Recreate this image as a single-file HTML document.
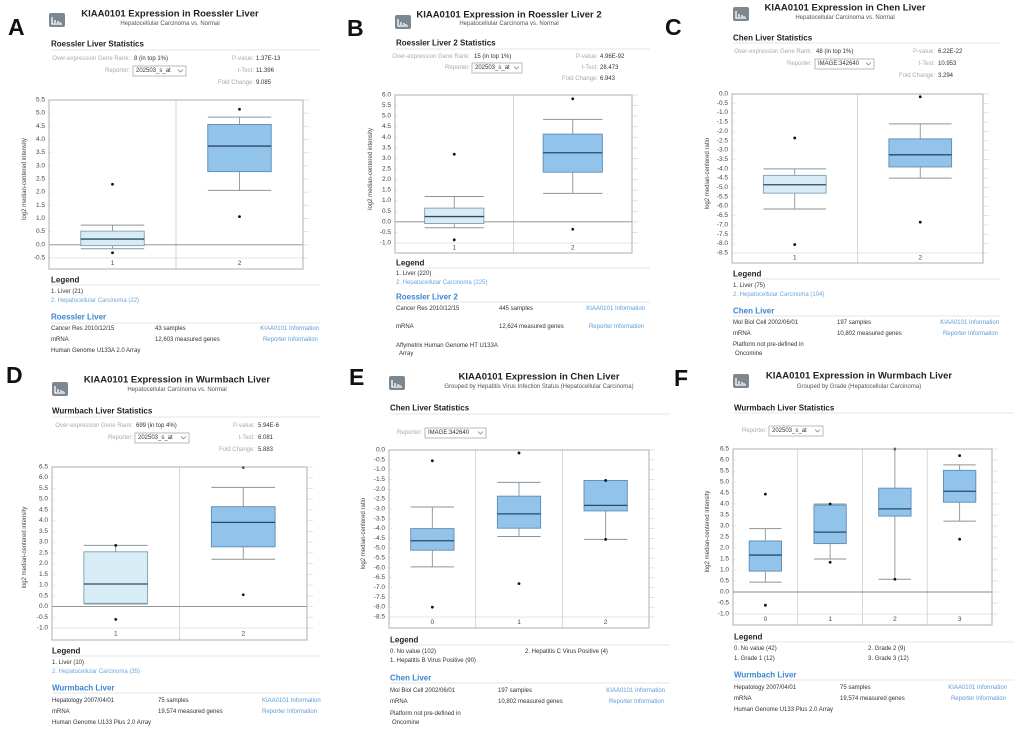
<!DOCTYPE html>
<html><head><meta charset="utf-8"><style>
html,body{margin:0;padding:0;background:#fff;}
svg{display:block;font-family:"Liberation Sans",sans-serif;}
</style></head><body>
<svg id="fig" width="1020" height="732" viewBox="0 0 1020 732"></svg>
<script>
// ---- Data ----
const aCategories = ["1","2"];
const aWhiskerHi = [0.75, 4.85];
const aQ3 = [0.52, 4.57];
const aMedian = [0.22, 3.75];
const aQ1 = [-0.03, 2.78];
const aWhiskerLo = [-0.15, 2.07];
const aOutliers = [[2.3, -0.3], [5.15, 1.07]];

const bCategories = ["1","2"];
const bWhiskerHi = [1.2, 4.85];
const bQ3 = [0.65, 4.15];
const bMedian = [0.25, 3.27];
const bQ1 = [-0.08, 2.35];
const bWhiskerLo = [-0.28, 1.35];
const bOutliers = [[3.2, -0.85], [5.82, -0.35]];

const cCategories = ["1","2"];
const cWhiskerHi = [-4.0, -1.6];
const cQ3 = [-4.35, -2.4];
const cMedian = [-4.85, -3.25];
const cQ1 = [-5.3, -3.9];
const cWhiskerLo = [-6.15, -4.5];
const cOutliers = [[-2.35, -8.05], [-0.15, -6.85]];

const dCategories = ["1","2"];
const dWhiskerHi = [2.85, 5.55];
const dQ3 = [2.55, 4.65];
const dMedian = [1.05, 3.92];
const dQ1 = [0.15, 2.78];
const dWhiskerLo = [0.12, 2.2];
const dOutliers = [[2.85, -0.6], [6.48, 0.55]];

const eCategories = ["0","1","2"];
const eWhiskerHi = [-2.9, -1.65, -1.55];
const eQ3 = [-4.0, -2.35, -1.55];
const eMedian = [-4.62, -3.25, -2.82];
const eQ1 = [-5.1, -3.98, -3.1];
const eWhiskerLo = [-5.95, -4.4, -4.55];
const eOutliers = [[-0.55, -8.0], [-0.15, -6.8], [-1.55, -4.55]];

const fCategories = ["0","1","2","3"];
const fWhiskerHi = [2.88, 4.0, 6.5, 5.78];
const fQ3 = [2.32, 3.95, 4.72, 5.53];
const fMedian = [1.68, 2.72, 3.78, 4.58];
const fQ1 = [0.95, 2.2, 3.45, 4.08];
const fWhiskerLo = [0.45, 1.5, 0.58, 3.22];
const fOutliers = [[4.45, -0.6], [4.0, 1.35], [6.5, 0.58], [6.2, 2.4]];

const aTicks = [5.5,5.0,4.5,4.0,3.5,3.0,2.5,2.0,1.5,1.0,0.5,0.0,-0.5];
const bTicks = [6.0,5.5,5.0,4.5,4.0,3.5,3.0,2.5,2.0,1.5,1.0,0.5,0.0,-0.5,-1.0];
const cTicks = [0.0,-0.5,-1.0,-1.5,-2.0,-2.5,-3.0,-3.5,-4.0,-4.5,-5.0,-5.5,-6.0,-6.5,-7.0,-7.5,-8.0,-8.5];
const dTicks = [6.5,6.0,5.5,5.0,4.5,4.0,3.5,3.0,2.5,2.0,1.5,1.0,0.5,0.0,-0.5,-1.0];
const eTicks = cTicks;
const fTicks = dTicks;

const NS = "http://www.w3.org/2000/svg";
const svg = document.getElementById("fig");

function mk(tag, attrs, parent, name, inter) {
  const el = document.createElementNS(NS, tag);
  for (const k in attrs) el.setAttribute(k, attrs[k]);
  
  
  (parent || svg).appendChild(el);
  return el;
}
const STY = {
  title:{size:9.5,weight:"bold",fill:"#222"},
  sub:{size:6,weight:"normal",fill:"#555"},
  h:{size:8,weight:"bold",fill:"#222"},
  lab:{size:6,weight:"normal",fill:"#aaa"},
  val:{size:6,weight:"normal",fill:"#333"},
  link:{size:6,weight:"normal",fill:"#5b9bd8"},
  dtitle:{size:8,weight:"bold",fill:"#3a86d0"},
  leg2:{size:6,weight:"normal",fill:"#6aa6dc"},
  tick:{size:6.5,weight:"normal",fill:"#444"},
  letter:{size:23,weight:"bold",fill:"#111"}
};
function txt(x, y, s, style, anchor, name, inter) {
  const st = STY[style];
  const el = mk("text", {x:x, y:y, "font-size":st.size, "font-weight":st.weight, fill:st.fill,
    "text-anchor":anchor||"start", "dominant-baseline":"central"}, svg, name, inter);
  el.textContent = s;
  return el;
}
function hline(x1, x2, y, color, name) {
  mk("line", {x1:x1, x2:x2, y1:y, y2:y, stroke:color||"#e4e4e4", "stroke-width":1}, svg, name, false);
}
function icon(x, y) {
  const g = mk("g", {}, svg, "chart-icon", false);
  mk("rect", {x:x, y:y, width:16, height:14, rx:2, fill:"#7d8790"}, g, "icon-bg", false);
  mk("path", {d:`M${x+3} ${y+4}v7h10M${x+6} ${y+10}v-3M${x+9} ${y+10}v-2M${x+11} ${y+10}v-1`, stroke:"#fff", "stroke-width":1.3, fill:"none"}, g, "icon-glyph", false);
}
function select(x, y, w, label) {
  mk("rect", {x:x, y:y-5, width:w, height:10, fill:"#fff", stroke:"#aaa", "stroke-width":0.8}, svg, "reporter-select", true);
  txt(x+3, y, label, "val", "start", "reporter-value", true);
  mk("path", {d:`M${x+w-8} ${y-1.5}l2.5 2.5l2.5-2.5`, stroke:"#777", fill:"none", "stroke-width":0.7}, svg, "select-chevron", true);
}

function plot(cfg, cats, wHi, q3, med, q1, wLo, outs, ticks) {
  const {L, R, pTop, pBot, fBot, light, ytitle, ytx} = cfg;
  const tTop = ticks[0], tBot = ticks[ticks.length-1];
  const y = v => pTop + (tTop - v) / (tTop - tBot) * (pBot - pTop);
  const n = cats.length, cw = (R - L) / n;
  const xc = i => L + cw * (i + 0.5);
  // ticks
  ticks.forEach(t => {
    mk("line", {x1:R, x2:R+6, y1:y(t), y2:y(t), stroke:"#ddd", "stroke-width":0.8}, svg, "tick-mark", false);
    mk("line", {x1:L, x2:L+3, y1:y(t), y2:y(t), stroke:"#e6e6e6", "stroke-width":0.8}, svg, "tick-mark", false);
    txt(L-4, y(t), t.toFixed(1), "tick", "end", "y-tick-label", false);
  });
  // separators
  for (let i = 1; i < n; i++) {
    mk("line", {x1:L+cw*i, x2:L+cw*i, y1:pTop, y2:fBot, stroke:"#ccc", "stroke-width":0.8}, svg, "category-separator", false);
  }
  mk("line", {x1:L, x2:R, y1:pBot, y2:pBot, stroke:"#ddd", "stroke-width":0.8}, svg, "axis-min-line", false);
  if (tTop > 0 && tBot < 0)
    mk("line", {x1:L, x2:R, y1:y(0), y2:y(0), stroke:"#888", "stroke-width":0.9}, svg, "zero-line", false);
  // boxes
  for (let i = 0; i < n; i++) {
    const g = mk("g", {}, svg, "box-group-" + cats[i], true);
    const bw = cw * 0.5, x0 = xc(i) - bw/2;
    const lt = light && i === 0;
    mk("line", {x1:xc(i), x2:xc(i), y1:y(wHi[i]), y2:y(q3[i]), stroke:"#8a9499", "stroke-width":0.9}, g, "whisker-upper", false);
    mk("line", {x1:xc(i), x2:xc(i), y1:y(q1[i]), y2:y(wLo[i]), stroke:"#8a9499", "stroke-width":0.9}, g, "whisker-lower", false);
    mk("line", {x1:x0, x2:x0+bw, y1:y(wHi[i]), y2:y(wHi[i]), stroke:"#8a9499", "stroke-width":1}, g, "whisker-cap-upper", false);
    mk("line", {x1:x0, x2:x0+bw, y1:y(wLo[i]), y2:y(wLo[i]), stroke:"#8a9499", "stroke-width":1}, g, "whisker-cap-lower", false);
    mk("rect", {x:x0, y:y(q3[i]), width:bw, height:y(q1[i]) - y(q3[i]),
      fill: lt ? "#d8ecf6" : "#92c3ea", stroke: lt ? "#7f9fae" : "#5d8db5", "stroke-width":0.9}, g, "box-iqr", true);
    mk("line", {x1:x0, x2:x0+bw, y1:y(med[i]), y2:y(med[i]), stroke:"#2b4a66", "stroke-width":1.3}, g, "median-line", false);
    outs[i].forEach(v => {
      mk("circle", {cx:xc(i), cy:y(v), r:1.4, fill:"#111"}, g, "outlier-point", false);
    });
    txt(xc(i), (pBot + fBot)/2, cats[i], "tick", "middle", "x-category-label", false);
  }
  mk("rect", {x:L, y:pTop, width:R-L, height:fBot-pTop, fill:"none", stroke:"#aab0b3", "stroke-width":1}, svg, "plot-frame", false);
  const yt = txt(ytx, (pTop+pBot)/2, ytitle, "sub", "middle", "y-axis-title", false);
  yt.setAttribute("transform", `rotate(-90 ${ytx} ${(pTop+pBot)/2})`);
  yt.setAttribute("fill", "#444");
}

// ---- Panel letters ----
txt(8, 27, "A", "letter", "start", "panel-letter-a", false);
txt(347, 28, "B", "letter", "start", "panel-letter-b", false);
txt(665, 27, "C", "letter", "start", "panel-letter-c", false);
txt(6, 375, "D", "letter", "start", "panel-letter-d", false);
txt(349, 377, "E", "letter", "start", "panel-letter-e", false);
txt(674, 378, "F", "letter", "start", "panel-letter-f", false);

// ---- Panel A ----
icon(49, 13);
txt(170, 14, "KIAA0101 Expression in Roessler Liver", "title", "middle", "chart-title", false);
txt(170, 24, "Hepatocellular Carcinoma vs. Normal", "sub", "middle", "chart-subtitle", false);
txt(51, 44, "Roessler Liver Statistics", "h", "start", "statistics-heading", false);
hline(51, 320, 50, null, "divider");
txt(130, 59, "Over-expression Gene Rank:", "lab", "end", "rank-label", false);
txt(134, 59, "8 (in top 1%)", "val", "start", "rank-value", false);
txt(130, 71, "Reporter:", "lab", "end", "reporter-label", false);
select(133, 71, 53, "202503_s_at");
txt(254, 59, "P-value:", "lab", "end", "p-value-label", false);
txt(256, 59, "1.37E-13", "val", "start", "p-value", false);
txt(254, 71, "t-Test:", "lab", "end", "t-test-label", false);
txt(256, 71, "11.396", "val", "start", "t-test-value", false);
txt(254, 83, "Fold Change:", "lab", "end", "fold-change-label", false);
txt(256, 83, "9.085", "val", "start", "fold-change-value", false);
plot({L:49, R:303, pTop:100, pBot:258, fBot:269, light:true, ytitle:"log2 median-centered intensity", ytx:25},
  aCategories, aWhiskerHi, aQ3, aMedian, aQ1, aWhiskerLo, aOutliers, aTicks);
txt(51, 280, "Legend", "h", "start", "legend-heading", false);
hline(51, 320, 285, null, "divider");
txt(51, 292, "1. Liver (21)", "val", "start", "legend-entry", false);
txt(51, 301, "2. Hepatocellular Carcinoma (22)", "leg2", "start", "legend-entry", false);
txt(51, 317, "Roessler Liver", "dtitle", "start", "dataset-title", true);
hline(51, 320, 323, null, "divider");
txt(51, 329, "Cancer Res 2010/12/15", "val", "start", "dataset-reference", false);
txt(155, 329, "43 samples", "val", "start", "sample-count", false);
txt(319, 329, "KIAA0101 Information", "link", "end", "gene-info-link", true);
txt(51, 340, "mRNA", "val", "start", "data-type", false);
txt(155, 340, "12,603 measured genes", "val", "start", "gene-count", false);
txt(318, 340, "Reporter Information", "link", "end", "reporter-info-link", true);
txt(51, 351, "Human Genome U133A 2.0 Array", "val", "start", "platform", false);

// ---- Panel B ----
icon(395, 15);
txt(509, 15, "KIAA0101 Expression in Roessler Liver 2", "title", "middle", "chart-title", false);
txt(509, 24, "Hepatocellular Carcinoma vs. Normal", "sub", "middle", "chart-subtitle", false);
txt(396, 43, "Roessler Liver 2 Statistics", "h", "start", "statistics-heading", false);
hline(396, 650, 49, null, "divider");
txt(470, 57, "Over-expression Gene Rank:", "lab", "end", "rank-label", false);
txt(474, 57, "15 (in top 1%)", "val", "start", "rank-value", false);
txt(470, 68, "Reporter:", "lab", "end", "reporter-label", false);
select(472, 68, 50, "202503_s_at");
txt(598, 57, "P-value:", "lab", "end", "p-value-label", false);
txt(600, 57, "4.96E-92", "val", "start", "p-value", false);
txt(598, 68, "t-Test:", "lab", "end", "t-test-label", false);
txt(600, 68, "28.473", "val", "start", "t-test-value", false);
txt(598, 79, "Fold Change:", "lab", "end", "fold-change-label", false);
txt(600, 79, "6.943", "val", "start", "fold-change-value", false);
plot({L:395, R:632, pTop:95, pBot:243, fBot:253, light:true, ytitle:"log2 median-centered intensity", ytx:371},
  bCategories, bWhiskerHi, bQ3, bMedian, bQ1, bWhiskerLo, bOutliers, bTicks);
txt(396, 263, "Legend", "h", "start", "legend-heading", false);
hline(396, 650, 268, null, "divider");
txt(396, 274, "1. Liver (220)", "val", "start", "legend-entry", false);
txt(396, 283, "2. Hepatocellular Carcinoma (225)", "leg2", "start", "legend-entry", false);
txt(396, 297, "Roessler Liver 2", "dtitle", "start", "dataset-title", true);
hline(396, 650, 302, null, "divider");
txt(396, 309, "Cancer Res 2010/12/15", "val", "start", "dataset-reference", false);
txt(499, 309, "445 samples", "val", "start", "sample-count", false);
txt(645, 309, "KIAA0101 Information", "link", "end", "gene-info-link", true);
txt(396, 327, "mRNA", "val", "start", "data-type", false);
txt(499, 327, "12,624 measured genes", "val", "start", "gene-count", false);
txt(644, 327, "Reporter Information", "link", "end", "reporter-info-link", true);
txt(396, 346, "Affymetrix Human Genome HT U133A", "val", "start", "platform", false);
txt(399, 354, "Array", "val", "start", "platform-cont", false);

// ---- Panel C ----
icon(733, 7);
txt(845, 8, "KIAA0101 Expression in Chen Liver", "title", "middle", "chart-title", false);
txt(845, 18, "Hepatocellular Carcinoma vs. Normal", "sub", "middle", "chart-subtitle", false);
txt(733, 38, "Chen Liver Statistics", "h", "start", "statistics-heading", false);
hline(733, 1000, 43, null, "divider");
txt(812, 52, "Over-expression Gene Rank:", "lab", "end", "rank-label", false);
txt(816, 52, "48 (in top 1%)", "val", "start", "rank-value", false);
txt(812, 64, "Reporter:", "lab", "end", "reporter-label", false);
select(815, 64, 59, "IMAGE:342640");
txt(935, 52, "P-value:", "lab", "end", "p-value-label", false);
txt(938, 52, "6.22E-22", "val", "start", "p-value", false);
txt(935, 64, "t-Test:", "lab", "end", "t-test-label", false);
txt(938, 64, "10.953", "val", "start", "t-test-value", false);
txt(935, 76, "Fold Change:", "lab", "end", "fold-change-label", false);
txt(938, 76, "3.294", "val", "start", "fold-change-value", false);
plot({L:732, R:983, pTop:94, pBot:253, fBot:263, light:true, ytitle:"log2 median-centered ratio", ytx:708},
  cCategories, cWhiskerHi, cQ3, cMedian, cQ1, cWhiskerLo, cOutliers, cTicks);
txt(733, 274, "Legend", "h", "start", "legend-heading", false);
hline(733, 1000, 279, null, "divider");
txt(733, 286, "1. Liver (75)", "val", "start", "legend-entry", false);
txt(733, 295, "2. Hepatocellular Carcinoma (104)", "leg2", "start", "legend-entry", false);
txt(733, 311, "Chen Liver", "dtitle", "start", "dataset-title", true);
hline(733, 1000, 316, null, "divider");
txt(733, 323, "Mol Biol Cell 2002/06/01", "val", "start", "dataset-reference", false);
txt(837, 323, "197 samples", "val", "start", "sample-count", false);
txt(999, 323, "KIAA0101 Information", "link", "end", "gene-info-link", true);
txt(733, 334, "mRNA", "val", "start", "data-type", false);
txt(837, 334, "10,802 measured genes", "val", "start", "gene-count", false);
txt(998, 334, "Reporter Information", "link", "end", "reporter-info-link", true);
txt(733, 345, "Platform not pre-defined in", "val", "start", "platform", false);
txt(735, 354, "Oncomine", "val", "start", "platform-cont", false);

// ---- Panel D ----
icon(52, 382);
txt(177, 380, "KIAA0101 Expression in Wurmbach Liver", "title", "middle", "chart-title", false);
txt(177, 390, "Hepatocellular Carcinoma vs. Normal", "sub", "middle", "chart-subtitle", false);
txt(52, 411, "Wurmbach Liver Statistics", "h", "start", "statistics-heading", false);
hline(52, 320, 417, null, "divider");
txt(133, 426, "Over-expression Gene Rank:", "lab", "end", "rank-label", false);
txt(136, 426, "699 (in top 4%)", "val", "start", "rank-value", false);
txt(133, 438, "Reporter:", "lab", "end", "reporter-label", false);
select(135, 438, 54, "202503_s_at");
txt(255, 426, "P-value:", "lab", "end", "p-value-label", false);
txt(258, 426, "5.94E-6", "val", "start", "p-value", false);
txt(255, 438, "t-Test:", "lab", "end", "t-test-label", false);
txt(258, 438, "6.081", "val", "start", "t-test-value", false);
txt(255, 450, "Fold Change:", "lab", "end", "fold-change-label", false);
txt(258, 450, "5.883", "val", "start", "fold-change-value", false);
plot({L:52, R:307, pTop:467, pBot:628, fBot:640, light:true, ytitle:"log2 median-centered intensity", ytx:25},
  dCategories, dWhiskerHi, dQ3, dMedian, dQ1, dWhiskerLo, dOutliers, dTicks);
txt(52, 651, "Legend", "h", "start", "legend-heading", false);
hline(52, 320, 656, null, "divider");
txt(52, 663, "1. Liver (10)", "val", "start", "legend-entry", false);
txt(52, 672, "2. Hepatocellular Carcinoma (35)", "leg2", "start", "legend-entry", false);
txt(52, 688, "Wurmbach Liver", "dtitle", "start", "dataset-title", true);
hline(52, 320, 693, null, "divider");
txt(52, 701, "Hepatology 2007/04/01", "val", "start", "dataset-reference", false);
txt(158, 701, "75 samples", "val", "start", "sample-count", false);
txt(262, 701, "KIAA0101 Information", "link", "start", "gene-info-link", true);
txt(52, 712, "mRNA", "val", "start", "data-type", false);
txt(158, 712, "19,574 measured genes", "val", "start", "gene-count", false);
txt(262, 712, "Reporter Information", "link", "start", "reporter-info-link", true);
txt(52, 723, "Human Genome U133 Plus 2.0 Array", "val", "start", "platform", false);

// ---- Panel E ----
icon(389, 376);
txt(539, 377, "KIAA0101 Expression in Chen Liver", "title", "middle", "chart-title", false);
txt(539, 387, "Grouped by Hepatitis Virus Infection Status (Hepatocellular Carcinoma)", "sub", "middle", "chart-subtitle", false);
txt(390, 408, "Chen Liver Statistics", "h", "start", "statistics-heading", false);
hline(390, 670, 414, null, "divider");
txt(422, 433, "Reporter:", "lab", "end", "reporter-label", false);
select(425, 433, 61, "IMAGE:342640");
plot({L:389, R:649, pTop:450, pBot:617, fBot:628, light:false, ytitle:"log2 median-centered ratio", ytx:364},
  eCategories, eWhiskerHi, eQ3, eMedian, eQ1, eWhiskerLo, eOutliers, eTicks);
txt(390, 640, "Legend", "h", "start", "legend-heading", false);
hline(390, 670, 645, null, "divider");
txt(390, 652, "0. No value (102)", "val", "start", "legend-entry", false);
txt(525, 652, "2. Hepatitis C Virus Positive (4)", "val", "start", "legend-entry", false);
txt(390, 661, "1. Hepatitis B Virus Positive (90)", "val", "start", "legend-entry", false);
txt(390, 678, "Chen Liver", "dtitle", "start", "dataset-title", true);
hline(390, 670, 683, null, "divider");
txt(390, 691, "Mol Biol Cell 2002/06/01", "val", "start", "dataset-reference", false);
txt(498, 691, "197 samples", "val", "start", "sample-count", false);
txt(665, 691, "KIAA0101 Information", "link", "end", "gene-info-link", true);
txt(390, 702, "mRNA", "val", "start", "data-type", false);
txt(498, 702, "10,802 measured genes", "val", "start", "gene-count", false);
txt(664, 702, "Reporter Information", "link", "end", "reporter-info-link", true);
txt(390, 714, "Platform not pre-defined in", "val", "start", "platform", false);
txt(392, 723, "Oncomine", "val", "start", "platform-cont", false);

// ---- Panel F ----
icon(733, 374);
txt(859, 376, "KIAA0101 Expression in Wurmbach Liver", "title", "middle", "chart-title", false);
txt(859, 387, "Grouped by Grade (Hepatocellular Carcinoma)", "sub", "middle", "chart-subtitle", false);
txt(734, 408, "Wurmbach Liver Statistics", "h", "start", "statistics-heading", false);
hline(734, 1014, 413, null, "divider");
txt(767, 431, "Reporter:", "lab", "end", "reporter-label", false);
select(769, 431, 54, "202503_s_at");
plot({L:733, R:992, pTop:449, pBot:614, fBot:625, light:false, ytitle:"log2 median-centered intensity", ytx:708},
  fCategories, fWhiskerHi, fQ3, fMedian, fQ1, fWhiskerLo, fOutliers, fTicks);
txt(734, 637, "Legend", "h", "start", "legend-heading", false);
hline(734, 1014, 642, null, "divider");
txt(734, 649, "0. No value (42)", "val", "start", "legend-entry", false);
txt(868, 649, "2. Grade 2 (9)", "val", "start", "legend-entry", false);
txt(734, 659, "1. Grade 1 (12)", "val", "start", "legend-entry", false);
txt(868, 659, "3. Grade 3 (12)", "val", "start", "legend-entry", false);
txt(734, 675, "Wurmbach Liver", "dtitle", "start", "dataset-title", true);
hline(734, 1014, 680, null, "divider");
txt(734, 688, "Hepatology 2007/04/01", "val", "start", "dataset-reference", false);
txt(840, 688, "75 samples", "val", "start", "sample-count", false);
txt(1007, 688, "KIAA0101 Information", "link", "end", "gene-info-link", true);
txt(734, 699, "mRNA", "val", "start", "data-type", false);
txt(840, 699, "19,574 measured genes", "val", "start", "gene-count", false);
txt(1006, 699, "Reporter Information", "link", "end", "reporter-info-link", true);
txt(734, 710, "Human Genome U133 Plus 2.0 Array", "val", "start", "platform", false);
</script>
</body></html>
